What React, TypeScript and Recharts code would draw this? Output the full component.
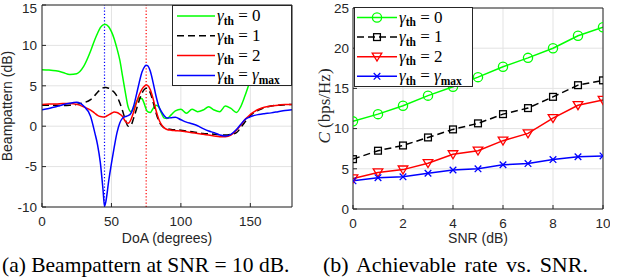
import React from "react";
import { LineChart, Line, XAxis, YAxis, CartesianGrid, ReferenceLine } from "recharts";

// (a) beampattern vs DoA, SNR = 10 dB
const DOA = [
  0, 5, 10, 15, 20, 25, 30, 35, 38, 40, 42, 44, 45, 46, 48, 50, 52, 54, 56, 58,
  60, 62, 64, 66, 68, 70, 72, 74, 75, 76, 78, 80, 82, 84, 86, 88, 90, 93, 96, 100,
  104, 108, 112, 116, 120, 124, 128, 132, 136, 140, 143, 146, 149, 152, 156, 160, 165, 170, 175, 180,
];
const BP_G0 = [
  7.0, 6.95, 6.85, 6.65, 6.4, 6.5, 7.4, 9.3, 10.7, 11.5, 12.2, 12.55, 12.6, 12.6, 12.3, 11.7, 10.8, 9.6, 8.2, 6.2,
  4.2, 2.4, 1.8, 2.2, 3.0, 3.5, 3.4, 2.6, 2.1, 1.8, 1.7, 2.2, 2.6, 2.4, 1.6, 1.0, 0.95, 1.4, 1.9, 2.1,
  1.6, 2.1, 1.8, 2.0, 2.4, 2.0, 1.8, 2.5, 2.2, 1.7, 2.4, 3.7, 5.2, 6.8, 8.5, 9.4, 10.0, 9.8, 9.1, 8.5,
];
const BP_G1 = [
  2.6, 2.6, 2.6, 2.55, 2.6, 2.7, 2.9, 3.3, 3.8, 4.2, 4.5, 4.75, 4.8, 4.8, 4.7, 4.5, 4.2, 3.7, 2.9, 1.9,
  0.8, 0.0, 0.1, 1.0, 2.1, 3.2, 4.1, 4.6, 4.7, 4.65, 4.1, 3.0, 1.7, 0.7, 0.1, -0.2, -0.3, -0.4, -0.45, -0.5,
  -0.6, -0.7, -0.8, -0.9, -0.95, -1.0, -1.05, -1.1, -1.0, -0.8, -0.2, 0.5, 1.1, 1.6, 2.0, 2.3, 2.5, 2.6, 2.65, 2.7,
];
const BP_G2 = [
  2.7, 2.75, 2.75, 2.8, 2.8, 2.7, 2.4, 2.0, 1.6, 1.35, 1.2, 1.15, 1.15, 1.2, 1.4, 1.6, 1.75, 1.7, 1.5, 1.2,
  0.6, 0.35, 0.8, 1.8, 2.9, 3.9, 4.6, 5.0, 5.1, 5.05, 4.5, 3.4, 2.0, 0.9, 0.2, -0.2, -0.4, -0.5, -0.55, -0.6,
  -0.7, -0.8, -0.9, -1.0, -1.1, -1.2, -1.3, -1.3, -1.1, -0.5, 0.1, 0.8, 1.3, 1.7, 2.1, 2.35, 2.5, 2.6, 2.7, 2.7,
];
const BP_GMAX = [
  2.05, 2.2, 2.4, 2.65, 2.85, 2.95, 2.5, 1.2, -0.8, -2.3, -4.5, -8.0, -9.9, -9.3, -6.8, -4.6, -2.6, -0.8, 0.4, 1.0,
  1.2, 1.3, 1.6, 2.5, 3.9, 5.4, 6.7, 7.4, 7.55, 7.5, 6.8, 5.4, 3.8, 2.5, 1.8, 1.3, 1.0, 1.05, 1.1, 0.8,
  0.5, 0.3, 0.05, -0.3, -0.6, -0.8, -1.1, -1.2, -1.0, -0.4, 0.2, 0.8, 1.1, 1.3, 1.45, 1.55, 1.65, 1.8, 1.95, 2.05,
];

// (b) achievable rate vs SNR
const SNR = [0, 1, 2, 3, 4, 5, 6, 7, 8, 9, 10];
const RATE_G0 = [10.9, 11.8, 12.85, 14.1, 15.2, 16.4, 17.7, 18.8, 20.0, 21.55, 22.6];
const RATE_G1 = [6.2, 7.25, 7.9, 8.9, 9.9, 10.65, 11.8, 12.55, 13.95, 15.4, 16.0];
const RATE_G2 = [3.8, 4.55, 4.9, 5.7, 6.8, 7.25, 8.5, 9.4, 11.3, 12.9, 13.55];
const RATE_GMAX = [3.5, 3.9, 4.0, 4.45, 4.85, 5.0, 5.5, 5.65, 6.15, 6.5, 6.6];

const LEGEND_VALUES = ["0", "1", "2", "max"];
const COLORS = ["#00ff00", "#000000", "#ff0000", "#0000ff"];

const AXIS = "#262626";
const GRID = "#e3e3e3";
const SANS = "'Liberation Sans', Arial, sans-serif";
const SERIF = "'Liberation Serif', 'Times New Roman', serif";
const TICK = { fontSize: 13.5, fill: AXIS, fontFamily: SANS };
const DASH = "7 4";

const beamData = DOA.map((d, i) => ({ doa: d, g0: BP_G0[i], g1: BP_G1[i], g2: BP_G2[i], gmax: BP_GMAX[i] }));
const rateData = SNR.map((s, i) => ({ snr: s, g0: RATE_G0[i], g1: RATE_G1[i], g2: RATE_G2[i], gmax: RATE_GMAX[i] }));

function Marker({ kind, cx, cy, color }: { kind: number; cx: number; cy: number; color: string }) {
  const common = { fill: "none", stroke: color, strokeWidth: 1.3, strokeDasharray: "none" };
  if (kind === 0) return <circle cx={cx} cy={cy} r={4.6} {...common} />;
  if (kind === 1) return <rect x={cx - 3.4} y={cy - 3.4} width={6.8} height={6.8} {...common} />;
  if (kind === 2) return <path d={`M${cx - 4.8},${cy - 3.6} L${cx + 4.8},${cy - 3.6} L${cx},${cy + 4.4} Z`} {...common} />;
  return <path d={`M${cx - 3.3},${cy - 3.3} L${cx + 3.3},${cy + 3.3} M${cx - 3.3},${cy + 3.3} L${cx + 3.3},${cy - 3.3}`} {...common} />;
}

function markerDot(kind: number) {
  return (props: any) => (
    <Marker key={`m${kind}-${props.index}`} kind={kind} cx={props.cx} cy={props.cy} color={COLORS[kind]} />
  );
}

function LegendLabel({ x, y, value }: { x: number; y: number; value: string }) {
  const isMax = value === "max";
  return (
    <text x={x} y={y} fontFamily={SERIF} fontSize={17} fill="#000">
      <tspan fontStyle="italic">γ</tspan>
      <tspan fontSize={11.5} fontWeight="bold" dy={3.5}>th</tspan>
      <tspan dy={-3.5}>{" = "}</tspan>
      {isMax ? (
        <>
          <tspan fontStyle="italic">γ</tspan>
          <tspan fontSize={11.5} fontWeight="bold" dy={3.5}>max</tspan>
        </>
      ) : (
        <tspan>{value}</tspan>
      )}
    </text>
  );
}

export default function App() {
  const boxAxes = (id: string, domain: number[], ticks: number[], vertical: boolean) =>
    vertical ? (
      <YAxis yAxisId={id} orientation="right" type="number" domain={domain} ticks={ticks} width={2}
        tick={false} tickSize={-4} stroke={AXIS} allowDataOverflow />
    ) : (
      <XAxis xAxisId={id} orientation="top" type="number" domain={domain} ticks={ticks} height={1}
        tick={false} tickSize={-4} stroke={AXIS} allowDataOverflow />
    );

  return (
    <div style={{ position: "absolute", left: 0, top: 0, width: 640, height: 277, background: "#fff", overflow: "hidden" }}>
      {/* (a) beampattern */}
      <div style={{ position: "absolute", left: 0, top: 0 }}>
        <LineChart width={300} height={277} data={beamData} margin={{ top: 4, right: 6, bottom: 30, left: 0 }}>
          <CartesianGrid stroke={GRID} />
          <XAxis dataKey="doa" type="number" domain={[0, 180]} ticks={[0, 50, 100, 150]} allowDataOverflow
            height={40} tickSize={-4} tickMargin={13} stroke={AXIS} tick={TICK} />
          {boxAxes("top", [0, 180], [0, 50, 100, 150], false)}
          <YAxis type="number" domain={[-10, 15]} ticks={[-10, -5, 0, 5, 10, 15]} allowDataOverflow
            width={42} tickSize={-4} tickMargin={9} stroke={AXIS} tick={TICK} />
          {boxAxes("right", [-10, 15], [-10, -5, 0, 5, 10, 15], true)}
          <ReferenceLine x={45} stroke="#0000ff" strokeDasharray="1.2 2" strokeWidth={1.2} />
          <ReferenceLine x={75} stroke="#ff0000" strokeDasharray="1.2 2" strokeWidth={1.2} />
          <Line type="monotone" dataKey="g0" stroke={COLORS[0]} strokeWidth={1.5} dot={false} isAnimationActive={false} />
          <Line type="monotone" dataKey="g1" stroke={COLORS[1]} strokeWidth={1.5} strokeDasharray={DASH} dot={false} isAnimationActive={false} />
          <Line type="monotone" dataKey="g2" stroke={COLORS[2]} strokeWidth={1.5} dot={false} isAnimationActive={false} />
          <Line type="monotone" dataKey="gmax" stroke={COLORS[3]} strokeWidth={1.5} dot={false} isAnimationActive={false} />
        </LineChart>
      </div>

      {/* (b) achievable rate */}
      <div style={{ position: "absolute", left: 320, top: 0 }}>
        <LineChart width={290} height={277} data={rateData} margin={{ top: 7, right: 5, bottom: 28, left: 0 }}>
          <CartesianGrid stroke={GRID} />
          <XAxis dataKey="snr" type="number" domain={[0, 10]} ticks={[0, 2, 4, 6, 8, 10]} allowDataOverflow
            height={40} tickSize={-4} tickMargin={13} stroke={AXIS} tick={TICK} />
          {boxAxes("top", [0, 10], [0, 2, 4, 6, 8, 10], false)}
          <YAxis type="number" domain={[0, 25]} ticks={[0, 5, 10, 15, 20, 25]} allowDataOverflow
            width={33} tickSize={-4} tickMargin={8} stroke={AXIS} tick={TICK} />
          {boxAxes("right", [0, 25], [0, 5, 10, 15, 20, 25], true)}
          <Line type="linear" dataKey="g0" stroke={COLORS[0]} strokeWidth={1.5} dot={markerDot(0)} isAnimationActive={false} />
          <Line type="linear" dataKey="g1" stroke={COLORS[1]} strokeWidth={1.5} strokeDasharray={DASH} dot={markerDot(1)} isAnimationActive={false} />
          <Line type="linear" dataKey="g2" stroke={COLORS[2]} strokeWidth={1.5} dot={markerDot(2)} isAnimationActive={false} />
          <Line type="linear" dataKey="gmax" stroke={COLORS[3]} strokeWidth={1.5} dot={markerDot(3)} isAnimationActive={false} />
        </LineChart>
      </div>

      {/* titles, legends, captions */}
      <svg width={640} height={277} style={{ position: "absolute", left: 0, top: 0, pointerEvents: "none" }}>
        <text transform="translate(12,106) rotate(-90)" textAnchor="middle" fontFamily={SANS} fontSize={14} fill={AXIS}>
          Beampattern (dB)
        </text>
        <text x={167} y={243} textAnchor="middle" fontFamily={SANS} fontSize={14} fill={AXIS}>DoA (degrees)</text>
        <text transform="translate(330,106) rotate(-90)" textAnchor="middle" fontFamily={SERIF} fontSize={17} fill={AXIS}>
          <tspan fontStyle="italic">C</tspan> (bps/Hz)
        </text>
        <text x={478} y={243} textAnchor="middle" fontFamily={SANS} fontSize={14} fill={AXIS}>SNR (dB)</text>

        {/* legend (a) */}
        <rect x={172.5} y={5.5} width={119} height={80} fill="#fff" stroke={AXIS} strokeWidth={1} />
        {LEGEND_VALUES.map((v, i) => {
          const cy = 16 + i * 19.8;
          return (
            <g key={`la${v}`}>
              <line x1={177} y1={cy} x2={215} y2={cy} stroke={COLORS[i]} strokeWidth={1.5}
                strokeDasharray={i === 1 ? DASH : undefined} />
              <LegendLabel x={217} y={cy + 5} value={v} />
            </g>
          );
        })}

        {/* legend (b) */}
        <rect x={354.5} y={7.5} width={118} height={79} fill="#fff" stroke={AXIS} strokeWidth={1} />
        {LEGEND_VALUES.map((v, i) => {
          const cy = 17.5 + i * 19.6;
          return (
            <g key={`lb${v}`}>
              <line x1={357} y1={cy} x2={397} y2={cy} stroke={COLORS[i]} strokeWidth={1.5}
                strokeDasharray={i === 1 ? DASH : undefined} />
              <Marker kind={i} cx={377} cy={cy} color={COLORS[i]} />
              <LegendLabel x={399} y={cy + 5} value={v} />
            </g>
          );
        })}

        <text x={2} y={272} fontFamily={SERIF} fontSize={21.5} fill="#000">(a) Beampattern at SNR = 10 dB.</text>
        <text x={323} y={272} fontFamily={SERIF} fontSize={22} wordSpacing={3} fill="#000">(b) Achievable rate vs. SNR.</text>
      </svg>
    </div>
  );
}
